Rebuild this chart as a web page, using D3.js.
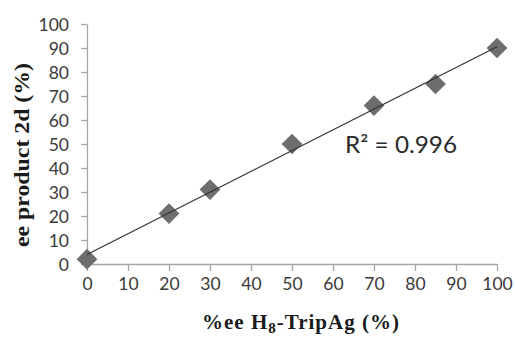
<!DOCTYPE html>
<html><head><meta charset="utf-8">
<script src="https://cdn.jsdelivr.net/npm/d3@7"></script>
<style>body{margin:0;background:#fff;}svg{display:block;}</style>
</head><body>
<svg id="c" width="515" height="338"></svg>
<script>
const xValues = [0, 20, 30, 50, 70, 85, 100];
const yValues = [2, 21, 31, 50, 66, 75, 90];
const xTicks = [0, 10, 20, 30, 40, 50, 60, 70, 80, 90, 100];
const yTicks = [0, 10, 20, 30, 40, 50, 60, 70, 80, 90, 100];
const r2Label = "R² = 0.996";
const yTitle = "ee product 2d (%)";
const xTitleMain = "%ee H";
const xTitleSub = "8";
const xTitleRest = "-TripAg (%)";

const svg = d3.select("#c");
const x = d3.scaleLinear().domain([0, 100]).range([87, 497]);
const y = d3.scaleLinear().domain([0, 100]).range([264, 24]);
const axisColor = "#a6a6a6";
const labelFont = "Lato, 'Open Sans', sans-serif";

// y axis
const gy = svg.append("g").attr("transform", `translate(${x(0)},0)`)
  .call(d3.axisLeft(y).tickValues(yTicks).tickSize(6).tickSizeOuter(0).tickPadding(12));
// x axis
const gx = svg.append("g").attr("transform", `translate(0,${y(0)})`)
  .call(d3.axisBottom(x).tickValues(xTicks).tickSize(7).tickSizeOuter(0));
[gx, gy].forEach(g => {
  g.select(".domain").attr("stroke", axisColor).attr("stroke-width", 1.3);
  g.selectAll(".tick line").attr("stroke", axisColor).attr("stroke-width", 1.3);
  g.selectAll("text").attr("fill", "#3a3a3a").style("font-family", labelFont).style("font-size", "17.5px");
});
gx.selectAll("text").attr("y", 26).attr("dy", null);
gy.selectAll("text").attr("dy", "0.36em");

// markers
const pts = xValues.map((v, i) => [v, yValues[i]]);
svg.append("g").selectAll("path").data(pts).join("path")
  .attr("d", d3.symbol(d3.symbolSquare, 215)())
  .attr("transform", d => `translate(${x(d[0])},${y(d[1])}) rotate(45)`)
  .attr("fill", "#6e6e6e");

// linear trendline (least squares from data)
const mx = d3.mean(xValues), my = d3.mean(yValues);
const sxy = d3.sum(pts, d => (d[0]-mx)*(d[1]-my));
const sxx = d3.sum(xValues, v => (v-mx)*(v-mx));
const slope = sxy / sxx, intercept = my - slope*mx;
const trend = [0, 100].map(v => [v, intercept + slope*v]);
svg.append("path")
  .attr("d", d3.line().x(d => x(d[0])).y(d => y(d[1]))(trend))
  .attr("fill", "none").attr("stroke", "#333").attr("stroke-width", 1.3);

// R2 label
svg.append("text").attr("x", 345).attr("y", 153)
  .attr("textLength", 112).attr("lengthAdjust", "spacingAndGlyphs")
  .style("font-family", labelFont).style("font-size", "23px").attr("fill", "#2a2a2a")
  .text(r2Label);

// y title
svg.append("text")
  .attr("transform", "translate(29,155) rotate(-90)")
  .attr("text-anchor", "middle")
  .attr("textLength", 184).attr("lengthAdjust", "spacingAndGlyphs")
  .style("font-family", "'Liberation Serif', 'DejaVu Serif', serif").style("font-weight", "bold").style("font-size", "20px")
  .attr("fill", "#1a1a1a")
  .text(yTitle);

// x title
const xt = svg.append("text").attr("x", 301).attr("y", 329).attr("text-anchor", "middle")
  .style("font-family", "'Liberation Serif', 'DejaVu Serif', serif").style("font-weight", "bold").style("font-size", "21px")
  .style("letter-spacing", "1px")
  .attr("fill", "#1a1a1a");
xt.append("tspan").text(xTitleMain);
xt.append("tspan").attr("dy", 4).style("font-size", "15px").text(xTitleSub);
xt.append("tspan").attr("dy", -4).text(xTitleRest);
</script>
</body></html>
